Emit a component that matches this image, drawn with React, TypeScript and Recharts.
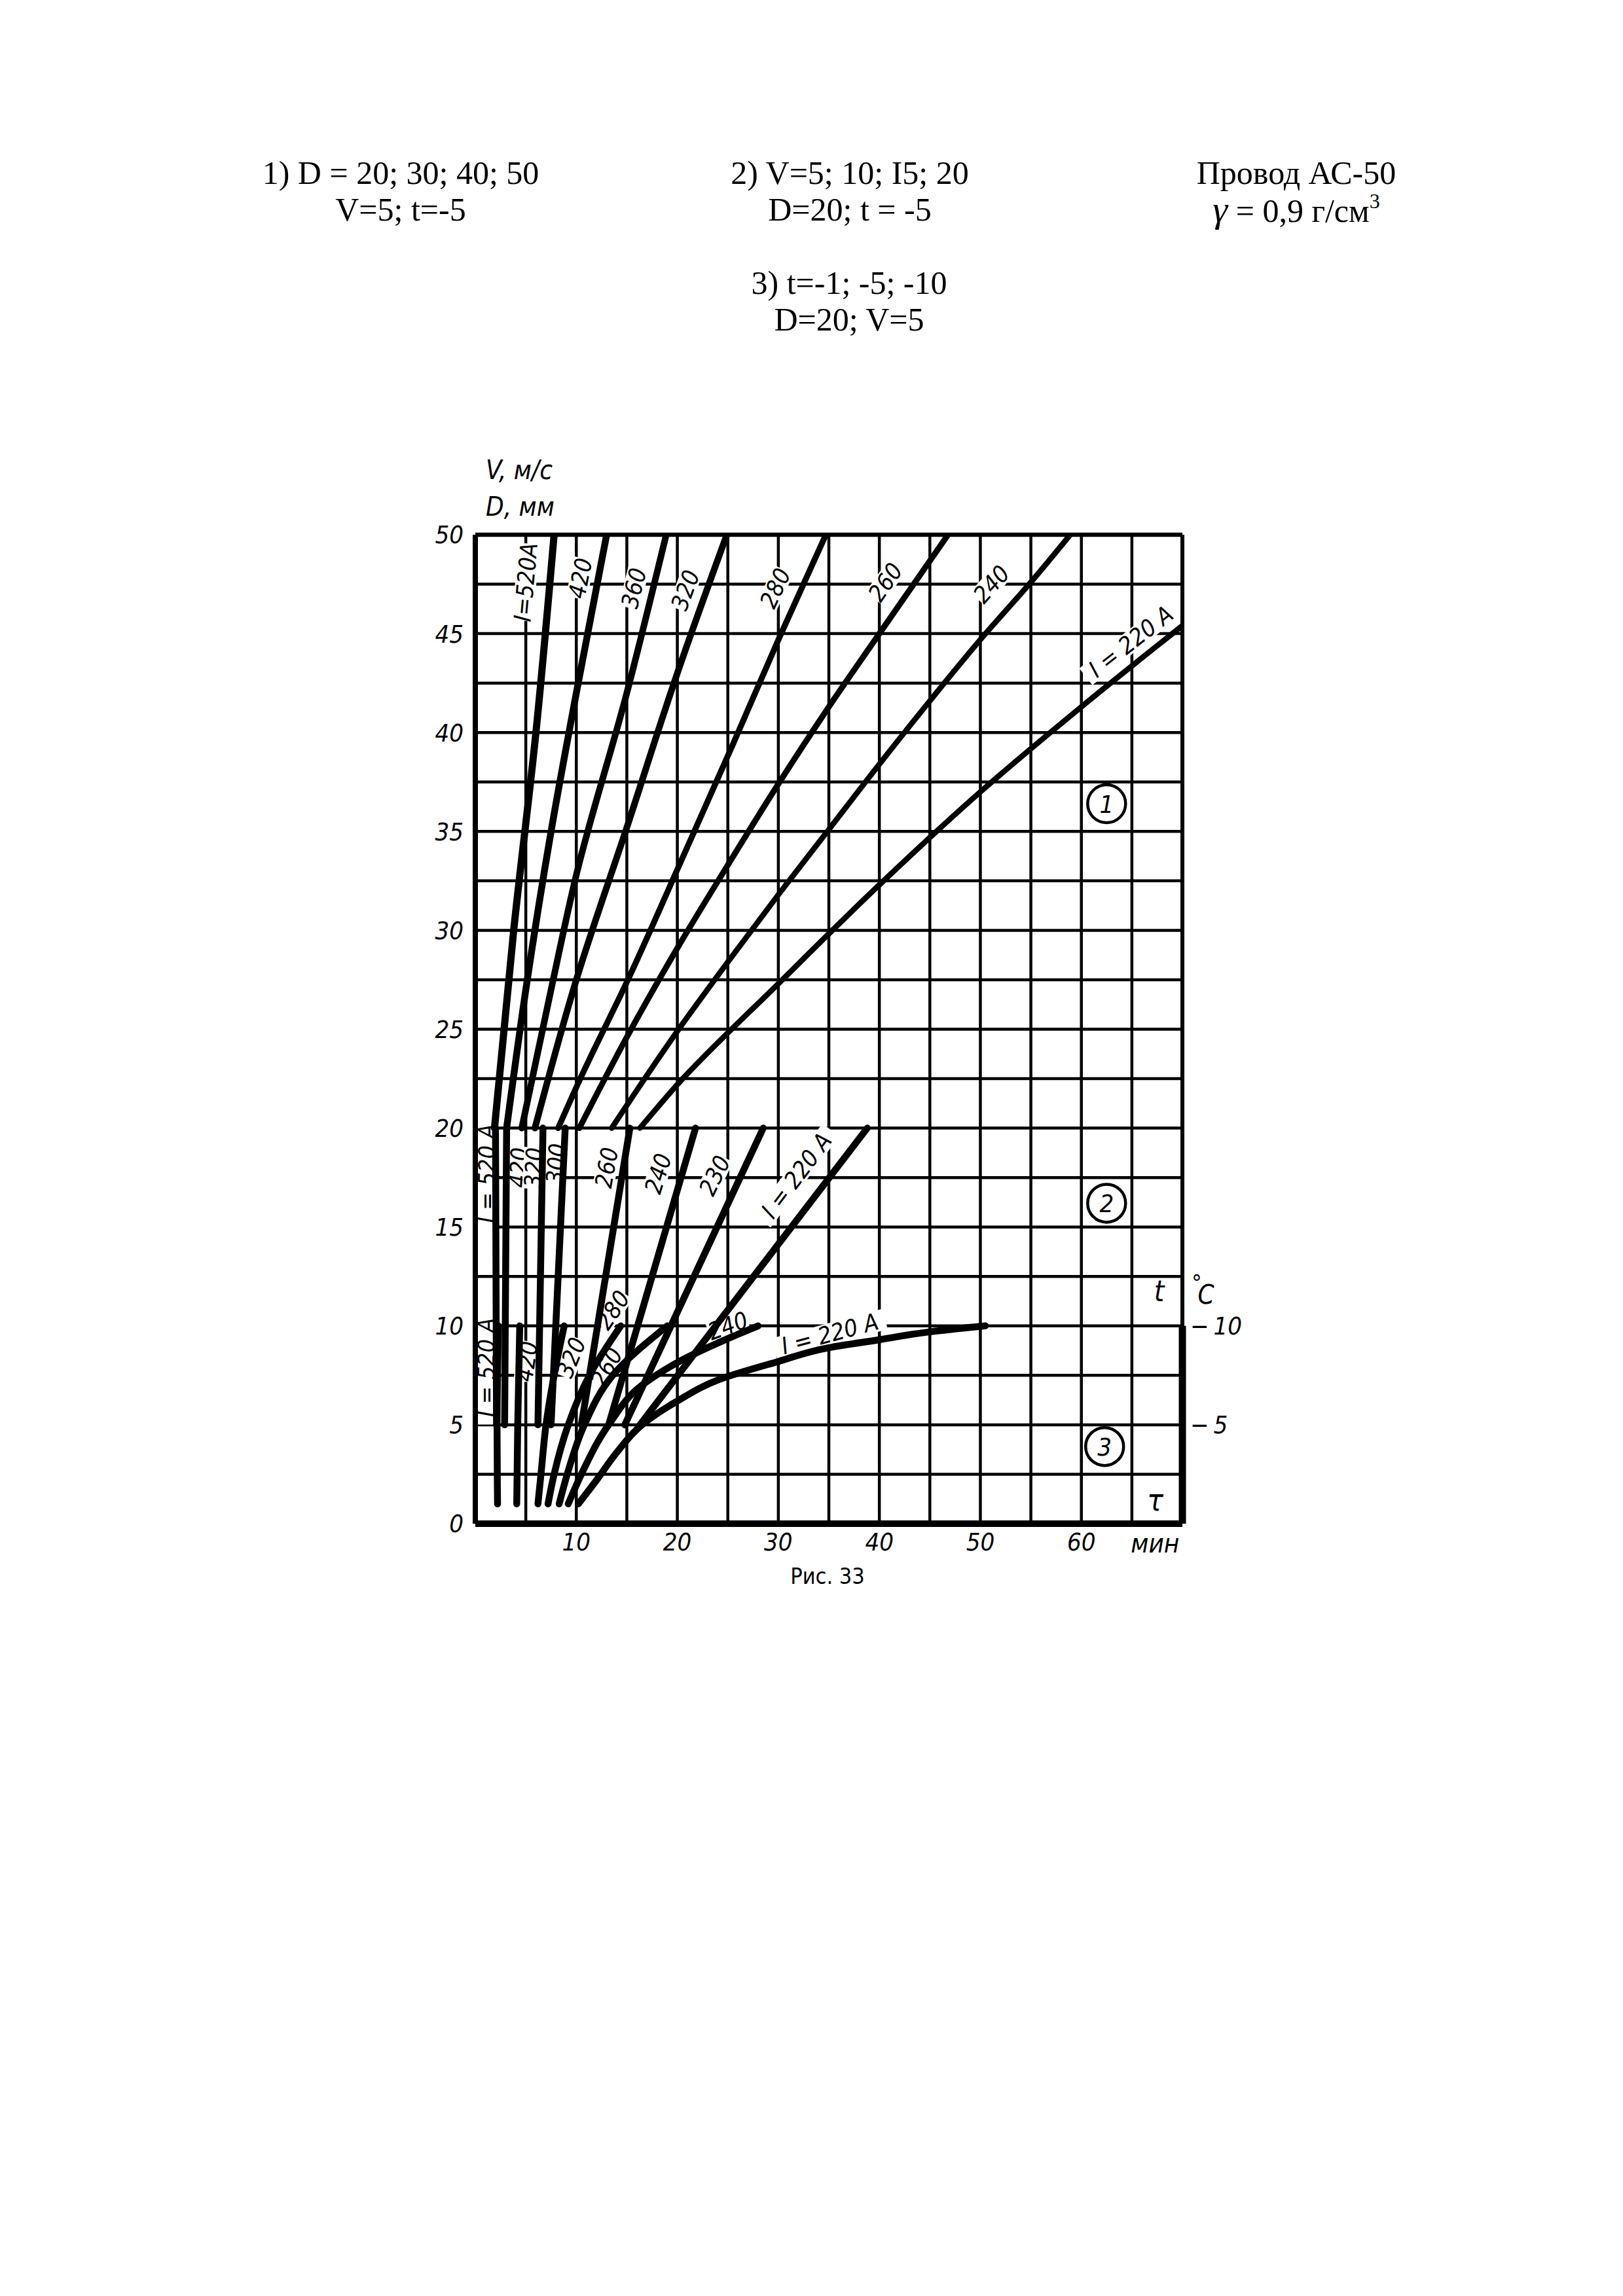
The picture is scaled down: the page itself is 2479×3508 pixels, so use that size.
import React from 'react';
import {
  LineChart,
  Line,
  XAxis,
  YAxis,
  CartesianGrid,
  ReferenceLine,
  ReferenceDot,
} from 'recharts';

type Pt = { x: number; y: number };

// ---- Axis ticks -------------------------------------------------------
const timeTicks = [0, 5, 10, 15, 20, 25, 30, 35, 40, 45, 50, 55, 60, 65, 70];
const timeLabelled = [10, 20, 30, 40, 50, 60];
const valueTicks = [
  0, 2.5, 5, 7.5, 10, 12.5, 15, 17.5, 20, 22.5, 25, 27.5, 30, 32.5, 35, 37.5, 40, 42.5, 45, 47.5, 50,
];
const tempTicks = [5, 10];

// ---- 1) D = 20…50 mm (V = 5 m/s, t = −5 °C): x = time, min; y = D, mm ----
const diaI520: Pt[] = [{ x: 1.9, y: 20 }, { x: 3.8, y: 30 }, { x: 6.0, y: 40 }, { x: 7.8, y: 50 }];
const diaI420: Pt[] = [{ x: 3.1, y: 20 }, { x: 5.0, y: 27 }, { x: 7.5, y: 35 }, { x: 10.0, y: 42 }, { x: 13.0, y: 50 }];
const diaI360: Pt[] = [{ x: 4.6, y: 20 }, { x: 7.5, y: 27 }, { x: 10.0, y: 32.8 }, { x: 15.0, y: 42 }, { x: 18.9, y: 50 }];
const diaI320: Pt[] = [{ x: 5.9, y: 20 }, { x: 10.0, y: 27.5 }, { x: 15.0, y: 35.2 }, { x: 20.0, y: 43 }, { x: 24.9, y: 50 }];
const diaI280: Pt[] = [
  { x: 8.2, y: 20 }, { x: 10.3, y: 22.4 }, { x: 15.2, y: 27.6 }, { x: 20.2, y: 33.3 },
  { x: 25.5, y: 39.4 }, { x: 30.1, y: 44.8 }, { x: 34.7, y: 50 },
];
const diaI260: Pt[] = [
  { x: 10.3, y: 20 }, { x: 15.0, y: 24.6 }, { x: 20.0, y: 29.1 }, { x: 25.0, y: 33.3 },
  { x: 30.0, y: 37.4 }, { x: 35.0, y: 41.3 }, { x: 40.0, y: 45 }, { x: 46.8, y: 50 },
];
const diaI240: Pt[] = [
  { x: 13.5, y: 20 }, { x: 20.0, y: 24.9 }, { x: 25.0, y: 28.4 }, { x: 30.0, y: 31.8 }, { x: 35.0, y: 35.1 },
  { x: 40.0, y: 38.4 }, { x: 45.0, y: 41.6 }, { x: 50.0, y: 44.7 }, { x: 55.0, y: 47.6 }, { x: 58.9, y: 50 },
];
const diaI220: Pt[] = [
  { x: 16.3, y: 20 }, { x: 20.0, y: 22.2 }, { x: 30.0, y: 27.3 }, { x: 40.0, y: 32.3 },
  { x: 50.0, y: 37.0 }, { x: 60.0, y: 41.3 }, { x: 70.0, y: 45.4 },
];

// ---- 2) V = 5…20 m/s (D = 20 mm, t = −5 °C): y = V, m/s ----
const windI520: Pt[] = [{ x: 2.1, y: 5 }, { x: 2.0, y: 20 }];
const windI420: Pt[] = [{ x: 2.9, y: 5 }, { x: 3.1, y: 20 }];
const windI320: Pt[] = [{ x: 6.2, y: 5 }, { x: 6.7, y: 20 }];
const windI300: Pt[] = [{ x: 7.5, y: 5 }, { x: 8.9, y: 20 }];
const windI260: Pt[] = [{ x: 10.5, y: 5 }, { x: 15.3, y: 20 }];
const windI240: Pt[] = [{ x: 13.2, y: 5 }, { x: 21.8, y: 20 }];
const windI230: Pt[] = [{ x: 14.8, y: 5 }, { x: 28.5, y: 20 }];
const windI220: Pt[] = [{ x: 16.3, y: 5 }, { x: 38.8, y: 20 }];

// ---- 3) t = −1…−10 °C (D = 20 mm, V = 5 m/s): y = |t|, °C ----
const tempI520: Pt[] = [{ x: 2.2, y: 1 }, { x: 2.15, y: 5 }, { x: 2.3, y: 10 }];
const tempI420: Pt[] = [{ x: 4.1, y: 1 }, { x: 4.2, y: 5 }, { x: 4.4, y: 10 }];
const tempI320: Pt[] = [{ x: 6.2, y: 1 }, { x: 6.5, y: 2.5 }, { x: 7.0, y: 5 }, { x: 7.8, y: 7.5 }, { x: 8.8, y: 10 }];
const tempI280: Pt[] = [{ x: 7.2, y: 1 }, { x: 7.8, y: 2.5 }, { x: 9.2, y: 5 }, { x: 11.3, y: 7.5 }, { x: 14.4, y: 10 }];
const tempI260: Pt[] = [{ x: 8.3, y: 1 }, { x: 9.1, y: 2.5 }, { x: 10.8, y: 5 }, { x: 13.6, y: 7.5 }, { x: 19.0, y: 10 }];
const tempI240: Pt[] = [
  { x: 9.2, y: 1 }, { x: 10.5, y: 2.5 }, { x: 13.2, y: 5 }, { x: 16.5, y: 7 },
  { x: 20.2, y: 8.2 }, { x: 25.2, y: 9.4 }, { x: 28.0, y: 10 },
];
const tempI220: Pt[] = [
  { x: 10.2, y: 1 }, { x: 12.0, y: 2.2 }, { x: 14.0, y: 3.6 }, { x: 16.5, y: 5 }, { x: 20.0, y: 6.2 },
  { x: 24.2, y: 7.3 }, { x: 30.0, y: 8.2 }, { x: 35.0, y: 8.9 }, { x: 40.0, y: 9.3 }, { x: 45.0, y: 9.7 }, { x: 50.5, y: 10 },
];

// ---- Curve inscriptions (text, anchor in data units, tilt in degrees) ----
const diaLabels = [
  { t: 'I=520A', x: 5.0, y: 47.6, a: -85 },
  { t: '420', x: 10.4, y: 47.8, a: -79 },
  { t: '360', x: 15.7, y: 47.3, a: -76 },
  { t: '320', x: 20.8, y: 47.2, a: -70 },
  { t: '280', x: 29.7, y: 47.3, a: -65 },
  { t: '260', x: 40.6, y: 47.6, a: -55 },
  { t: '240', x: 51.1, y: 47.5, a: -48 },
  { t: 'I = 220 A', x: 64.9, y: 44.6, a: -38 },
];
const windLabels = [
  { t: 'I = 520 A', x: 1.15, y: 17.7, a: -90 },
  { t: '420', x: 4.3, y: 18.0, a: -87 },
  { t: '320', x: 5.8, y: 18.0, a: -87 },
  { t: '300', x: 8.0, y: 18.2, a: -85 },
  { t: '260', x: 13.0, y: 18.0, a: -80 },
  { t: '240', x: 18.1, y: 17.7, a: -73 },
  { t: '230', x: 23.7, y: 17.6, a: -64 },
  { t: 'I = 220 A', x: 31.8, y: 17.6, a: -53 },
];
const tempLabels = [
  { t: 'I = 520 A', x: 1.1, y: 7.9, a: -90 },
  { t: '420', x: 5.1, y: 8.2, a: -82 },
  { t: '320', x: 9.5, y: 8.4, a: -68 },
  { t: '280', x: 13.6, y: 10.8, a: -56 },
  { t: '260', x: 13.0, y: 7.9, a: -62 },
  { t: '240', x: 25.0, y: 10.0, a: -20 },
  { t: 'I = 220 A', x: 35.1, y: 9.6, a: -15 },
];
const sectionMarks = [
  { n: '1', x: 62.5, y: 36.4 },
  { n: '2', x: 62.5, y: 16.2 },
  { n: '3', x: 62.3, y: 3.9 },
];

const diaCurves = [
  { k: 'd520', pts: diaI520, w: 11 },
  { k: 'd420', pts: diaI420, w: 10.5 },
  { k: 'd360', pts: diaI360, w: 10 },
  { k: 'd320', pts: diaI320, w: 10 },
  { k: 'd280', pts: diaI280, w: 9 },
  { k: 'd260', pts: diaI260, w: 9 },
  { k: 'd240', pts: diaI240, w: 8.5 },
  { k: 'd220', pts: diaI220, w: 8.5 },
];
const lowerCurves = [
  { k: 'w520', pts: windI520 },
  { k: 'w420', pts: windI420 },
  { k: 'w320', pts: windI320 },
  { k: 'w300', pts: windI300 },
  { k: 'w260', pts: windI260 },
  { k: 'w240', pts: windI240 },
  { k: 'w230', pts: windI230 },
  { k: 'w220', pts: windI220 },
  { k: 't520', pts: tempI520 },
  { k: 't420', pts: tempI420 },
  { k: 't320', pts: tempI320 },
  { k: 't280', pts: tempI280 },
  { k: 't260', pts: tempI260 },
  { k: 't240', pts: tempI240 },
  { k: 't220', pts: tempI220 },
];

const HAND = "'DejaVu Sans Condensed', 'DejaVu Sans', sans-serif";
const SERIF = "'Liberation Serif', 'Times New Roman', serif";
const NARROW = "'Liberation Sans Narrow', 'DejaVu Sans Condensed', sans-serif";
const INK = '#000';

function TiltText(props: any) {
  const { cx, cy, text, angle, size = 36, bg = true } = props;
  if (cx == null || cy == null) return null;
  const w = text.length * size * 0.52 + 6;
  const h = size * 0.9;
  return (
    <g transform={`translate(${cx},${cy}) rotate(${angle})`}>
      {bg && <rect x={-w / 2} y={-h / 2} width={w} height={h} fill="#fff" />}
      <text
        x={0}
        y={0}
        textAnchor="middle"
        dominantBaseline="central"
        fontFamily={HAND}
        fontStyle="italic"
        fontSize={size}
        fill={INK}
      >
        {text}
      </text>
    </g>
  );
}

function Ring(props: any) {
  const { cx, cy, n } = props;
  if (cx == null || cy == null) return null;
  return (
    <g>
      <circle cx={cx} cy={cy} r={29} fill="#fff" stroke={INK} strokeWidth={4.5} />
      <text
        x={cx}
        y={cy + 1}
        textAnchor="middle"
        dominantBaseline="central"
        fontFamily={HAND}
        fontStyle="italic"
        fontSize={38}
        fill={INK}
      >
        {n}
      </text>
    </g>
  );
}

function PlainText(props: any) {
  const { cx, cy, text, dx = 0, dy = 0, size = 40, anchor = 'middle' } = props;
  if (cx == null || cy == null) return null;
  return (
    <text
      x={cx + dx}
      y={cy + dy}
      textAnchor={anchor}
      dominantBaseline="central"
      fontFamily={HAND}
      fontStyle="italic"
      fontSize={size}
      fill={INK}
    >
      {text}
    </text>
  );
}

const tickFont = { fontFamily: HAND, fontStyle: 'italic', fontSize: 38, fill: INK } as any;

function Block({ cx, top, lines }: { cx: number; top: number; lines: React.ReactNode[] }) {
  return (
    <div
      style={{
        position: 'absolute',
        left: cx - 400,
        top,
        width: 800,
        textAlign: 'center',
        fontFamily: SERIF,
        fontSize: 50,
        lineHeight: '56px',
        color: INK,
        whiteSpace: 'nowrap',
      }}
    >
      {lines.map((l, i) => (
        <div key={i}>{l}</div>
      ))}
    </div>
  );
}

export default function App() {
  return (
    <div style={{ position: 'relative', width: 2479, height: 3508, margin: -8, background: '#fff', overflow: 'hidden' }}>
      <Block cx={612} top={236} lines={['1) D = 20; 30; 40; 50', 'V=5; t=-5']} />
      <Block cx={1298} top={236} lines={['2) V=5; 10; I5; 20', 'D=20; t = -5']} />
      <Block
        cx={1980}
        top={236}
        lines={[
          'Провод АС-50',
          <span key="g">
            <i style={{ fontSize: 58 }}>γ</i> = 0,9 г/см<sup style={{ fontSize: 32, verticalAlign: 'top', lineHeight: '30px' }}>3</sup>
          </span>,
        ]}
      />
      <Block cx={1297} top={404} lines={['3) t=-1; -5; -10', 'D=20; V=5']} />

      <div
        style={{
          position: 'absolute',
          left: 742,
          top: 690,
          fontFamily: HAND,
          fontStyle: 'italic',
          fontSize: 40,
          lineHeight: '56px',
          color: INK,
          whiteSpace: 'nowrap',
        }}
      >
        <div>V, м/с</div>
        <div>D, мм</div>
      </div>

      <div style={{ position: 'absolute', left: 526, top: 700 }}>
        <LineChart width={1430} height={1728} margin={{ top: 117, right: 0, bottom: 0, left: 0 }}>
          <CartesianGrid stroke={INK} strokeWidth={4.5} />
          <XAxis
            type="number"
            dataKey="x"
            domain={[0, 70]}
            ticks={timeTicks}
            interval={0}
            allowDataOverflow
            axisLine={false}
            tickLine={false}
            tickSize={0}
            tickMargin={14}
            height={100}
            tick={tickFont}
            tickFormatter={(v: number) => (timeLabelled.includes(v) ? String(v) : '')}
          />
          <YAxis
            type="number"
            dataKey="y"
            domain={[0, 50]}
            ticks={valueTicks}
            interval={0}
            allowDataOverflow
            axisLine={false}
            tickLine={false}
            tickSize={0}
            tickMargin={18}
            width={200}
            tick={tickFont}
            tickFormatter={(v: number) => (v % 5 === 0 ? String(v) : '')}
          />
          <YAxis
            yAxisId="t"
            orientation="right"
            type="number"
            domain={[0, 50]}
            ticks={tempTicks}
            interval={0}
            allowDataOverflow
            axisLine={false}
            tickLine={false}
            tickSize={0}
            tickMargin={12}
            width={150}
            tick={tickFont}
            tickFormatter={(v: number) => `\u2212\u2009${v}`}
          />

          {[...diaLabels, ...windLabels, ...tempLabels].map((l, i) => (
            <ReferenceDot
              key={`lab${i}`}
              x={l.x}
              y={l.y}
              r={0}
              ifOverflow="visible"
              zIndex={-50}
              shape={(p: any) => <TiltText cx={p.cx} cy={p.cy} text={l.t} angle={l.a} />}
            />
          ))}

          {diaCurves.map((c) => (
            <Line
              key={c.k}
              data={c.pts}
              dataKey="y"
              type="monotoneY"
              stroke={INK}
              strokeWidth={c.w}
              strokeLinecap="round"
              dot={false}
              activeDot={false}
              isAnimationActive={false}
            />
          ))}
          {lowerCurves.map((c) => (
            <Line
              key={c.k}
              data={c.pts}
              dataKey="y"
              type="monotoneY"
              stroke={INK}
              strokeWidth={10.5}
              strokeLinecap="round"
              dot={false}
              activeDot={false}
              isAnimationActive={false}
            />
          ))}

          <ReferenceLine x={0} stroke={INK} strokeWidth={8} />
          <ReferenceLine x={70} stroke={INK} strokeWidth={6} />
          <ReferenceLine y={50} stroke={INK} strokeWidth={6.5} />
          <ReferenceLine y={0} stroke={INK} strokeWidth={10} />
          <ReferenceLine segment={[{ x: 70, y: 0 }, { x: 70, y: 10 }]} stroke={INK} strokeWidth={11} />

          {sectionMarks.map((m) => (
            <ReferenceDot
              key={`ring${m.n}`}
              x={m.x}
              y={m.y}
              r={0}
              ifOverflow="visible"
              shape={(p: any) => <Ring cx={p.cx} cy={p.cy} n={m.n} />}
            />
          ))}
          <ReferenceDot x={67.7} y={11.75} r={0} ifOverflow="visible" shape={(p: any) => <PlainText cx={p.cx} cy={p.cy} text="t" size={44} />} />
          <ReferenceDot x={67.3} y={1.2} r={0} ifOverflow="visible" shape={(p: any) => <PlainText cx={p.cx} cy={p.cy} text="τ" size={46} />} />
          <ReferenceDot
            x={70}
            y={11.7}
            r={0}
            ifOverflow="visible"
            shape={(p: any) => (
              <g>
                <PlainText cx={p.cx} cy={p.cy} dx={22} dy={-14} text="°" size={34} />
                <PlainText cx={p.cx} cy={p.cy} dx={36} dy={4} text="C" />
              </g>
            )}
          />
          <ReferenceDot x={67.3} y={0} r={0} ifOverflow="visible" shape={(p: any) => <PlainText cx={p.cx} cy={p.cy} dy={30} text="мин" />} />
        </LineChart>
      </div>

      <div
        style={{
          position: 'absolute',
          left: 1164,
          top: 2388,
          width: 200,
          textAlign: 'center',
          fontFamily: NARROW,
          fontSize: 34,
          color: INK,
        }}
      >
        Рис. 33
      </div>
    </div>
  );
}
